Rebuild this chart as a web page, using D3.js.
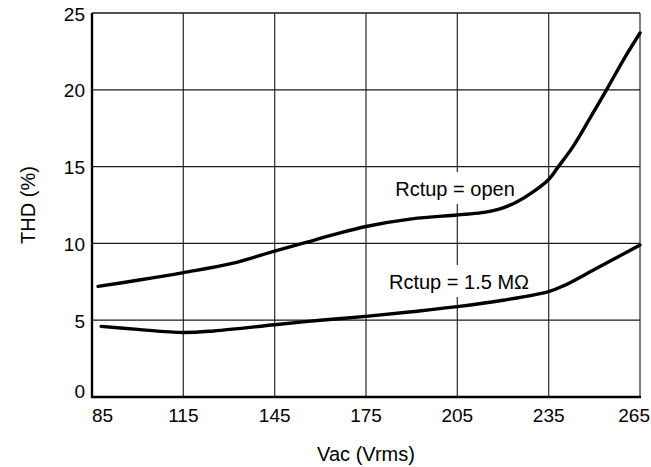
<!DOCTYPE html>
<html>
<head>
<meta charset="utf-8">
<script src="https://cdn.jsdelivr.net/npm/d3@7"></script>
<style>
  html, body { margin: 0; padding: 0; background: #fff; }
  svg { display: block; }
  text { font-family: "Liberation Sans", Arial, Helvetica, sans-serif; fill: #000; }
</style>
</head>
<body>
<svg id="chart" width="651" height="467"></svg>
<script>
// ---- data ----
const xTicks = [85, 115, 145, 175, 205, 235, 265];
const yTicks = [0, 5, 10, 15, 20, 25];

const vacOpen = [87, 100, 115, 131, 145, 155, 165, 175, 190, 205, 213, 219, 224.5, 230, 235, 238, 243, 249, 254, 260, 265];
const thdOpen = [7.2, 7.6, 8.1, 8.7, 9.5, 10.05, 10.6, 11.1, 11.6, 11.85, 12.0, 12.25, 12.7, 13.37, 14.16, 14.95, 16.3, 18.3, 20.0, 22.1, 23.7];

const vac15M = [88, 100, 115, 125, 145, 160, 175, 190, 205, 220, 235, 240, 250, 258, 265];
const thd15M = [4.6, 4.4, 4.2, 4.3, 4.7, 5.0, 5.25, 5.55, 5.88, 6.3, 6.86, 7.25, 8.3, 9.15, 9.9];

const labelOpen = "Rctup = open";
const label15M = "Rctup = 1.5 MΩ";
const xTitle = "Vac (Vrms)";
const yTitle = "THD (%)";

(function () {
// ---- layout ----
const mLeft = 92, mRight = 640, mTop = 13, mBottom = 397;
const svg = d3.select("#chart");
const x = d3.scaleLinear().domain([85, 265]).range([mLeft, mRight]);
const y = d3.scaleLinear().domain([0, 25]).range([mBottom, mTop]);
const FS = 19;

// grid
const grid = svg.append("g");
grid.selectAll("line.v").data(xTicks.slice(1)).join("line")
  .attr("x1", d => x(d)).attr("x2", d => x(d))
  .attr("y1", mTop).attr("y2", mBottom)
  .attr("stroke", "#3a3a3a").attr("stroke-width", 1.3);
grid.selectAll("line.h").data(yTicks.slice(1)).join("line")
  .attr("x1", mLeft).attr("x2", mRight)
  .attr("y1", d => y(d)).attr("y2", d => y(d))
  .attr("stroke", "#1a1a1a").attr("stroke-width", 1.3);

// labels with white background
const labels = svg.append("g");
function addLabel(txt, cx, by) {
  const g = labels.append("g");
  const r = g.append("rect").attr("fill", "#fff");
  const t = g.append("text").attr("x", cx).attr("y", by)
    .attr("text-anchor", "middle").attr("font-size", FS + 1).text(txt);
  const b = t.node().getBBox();
  r.attr("x", b.x - 4).attr("y", b.y - 6).attr("width", b.width + 8).attr("height", b.height + 10);
}
addLabel(labelOpen, 455, 196);
addLabel(label15M, 459, 289);

// axes lines (thick left and bottom)
svg.append("line").attr("x1", mLeft).attr("x2", mLeft).attr("y1", mTop).attr("y2", mBottom + 1)
  .attr("stroke", "#000").attr("stroke-width", 2.4);
svg.append("line").attr("x1", mLeft - 1).attr("x2", mRight + 1).attr("y1", mBottom).attr("y2", mBottom)
  .attr("stroke", "#000").attr("stroke-width", 2.4);

// curves
const line = d3.line().x(d => x(d[0])).y(d => y(d[1])).curve(d3.curveCatmullRom.alpha(0.5));
svg.append("path").datum(vacOpen.map((v, i) => [v, thdOpen[i]]))
  .attr("d", line).attr("fill", "none").attr("stroke", "#000")
  .attr("stroke-width", 3.4).attr("stroke-linecap", "round");
svg.append("path").datum(vac15M.map((v, i) => [v, thd15M[i]]))
  .attr("d", line).attr("fill", "none").attr("stroke", "#000")
  .attr("stroke-width", 3.4).attr("stroke-linecap", "round");

// y tick labels
svg.append("g").selectAll("text").data(yTicks).join("text")
  .attr("x", mLeft - 7)
  .attr("y", d => y(d) - (d === 0 ? 6 : -1))
  .attr("dy", "0.35em")
  .attr("text-anchor", "end").attr("font-size", FS)
  .text(d => d);

// x tick labels
svg.append("g").selectAll("text").data(xTicks).join("text")
  .attr("x", (d, i) => i === 0 ? x(d) : (i === xTicks.length - 1 ? 650 : x(d)))
  .attr("y", 422)
  .attr("text-anchor", (d, i) => i === 0 ? "start" : (i === xTicks.length - 1 ? "end" : "middle"))
  .attr("font-size", FS)
  .text(d => d);

// axis titles
svg.append("text").attr("x", (mLeft + mRight) / 2).attr("y", 461)
  .attr("text-anchor", "middle").attr("font-size", FS + 1).text(xTitle);
svg.append("text").attr("transform", `translate(35,${(mTop + mBottom) / 2}) rotate(-90)`)
  .attr("text-anchor", "middle").attr("font-size", FS + 1).text(yTitle);
})();
</script>
</body>
</html>
